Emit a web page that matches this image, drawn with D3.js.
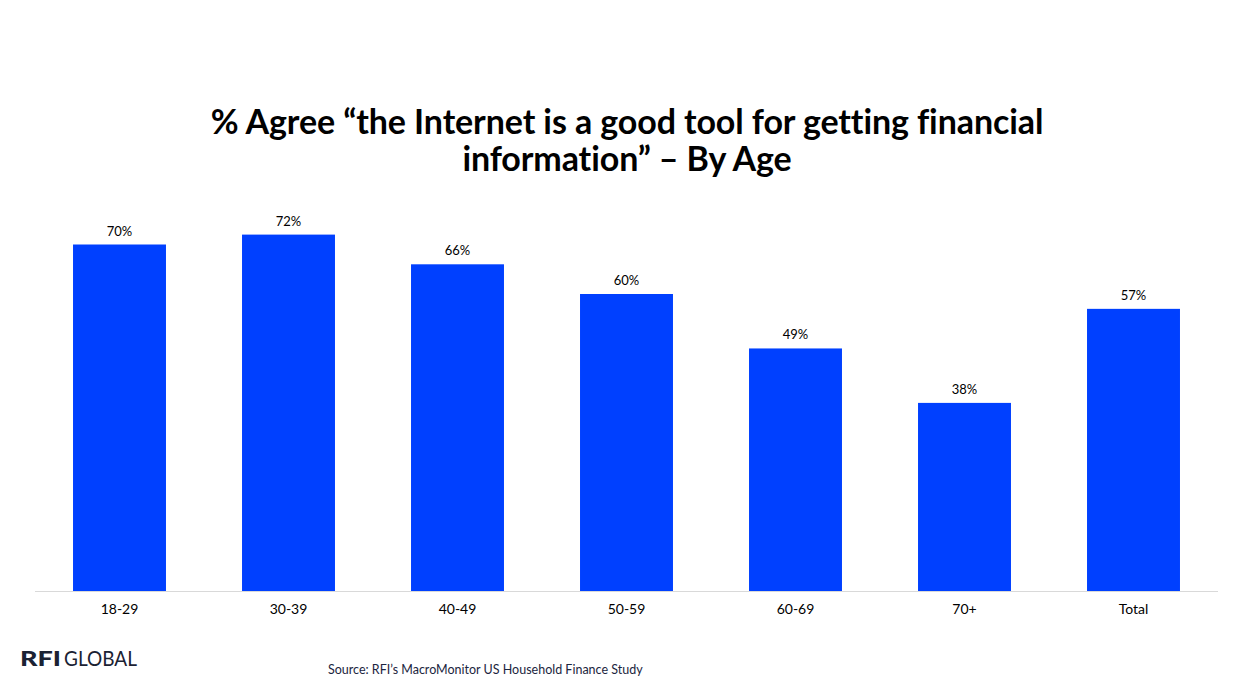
<!DOCTYPE html>
<html><head><meta charset="utf-8">
<script src="https://cdn.jsdelivr.net/npm/d3@7"></script>
<style>
html,body{margin:0;padding:0;background:#fff;}
svg{display:block;}
text{font-family:"Lato","Open Sans",sans-serif;font-variant-ligatures:none;}
</style></head>
<body>
<svg id="chart" width="1237" height="685"></svg>
<script>
const categories = ["18-29","30-39","40-49","50-59","60-69","70+","Total"];
const values = [70,72,66,60,49,38,57];
const titleLines = ["% Agree \u201cthe Internet is a good tool for getting financial","information\u201d \u2013 By Age"];
const sourceText = "Source: RFI\u2019s MacroMonitor US Household Finance Study";

const svg = d3.select("#chart");
const left = 35, right = 1218, base = 591;
const x = d3.scaleBand().domain(categories).range([left, right]).paddingInner(0.45).paddingOuter(0.225);
const y = d3.scaleLinear().domain([0, 100]).range([base, base - 495]);

svg.append("g").selectAll("text").data(titleLines).join("text")
  .attr("x", 627).attr("y", (d,i) => 134 + i*37)
  .attr("text-anchor","middle").attr("font-size", 34).attr("font-weight", 700)
  .attr("fill","#000").style("letter-spacing","-0.1px").text(d => d);

svg.append("g").selectAll("rect").data(values).join("rect")
  .attr("x", (d,i) => x(categories[i])).attr("width", x.bandwidth())
  .attr("y", d => y(d)).attr("height", d => y(0) - y(d))
  .attr("fill", "#0040ff");

svg.append("g").selectAll("text").data(values).join("text")
  .attr("x", (d,i) => x(categories[i]) + x.bandwidth()/2)
  .attr("y", d => y(d) - 9)
  .attr("text-anchor","middle").attr("font-size", 13).attr("fill","#000")
  .text(d => d + "%");

const axis = svg.append("g").attr("transform", `translate(0,${base})`)
  .call(d3.axisBottom(x).tickSize(0).tickPadding(13));
axis.select(".domain").attr("stroke","#d9d9d9").attr("stroke-width",1.2)
  .attr("d", `M${left},0.5H${right}`);
axis.selectAll("text").attr("font-size", 14).attr("fill","#000")
  .attr("font-family","Lato, 'Open Sans', sans-serif");

svg.append("text").attr("x", 20).attr("y", 666).attr("font-size", 21).attr("fill","#1b2233")
  .attr("font-weight", 900).attr("textLength", 41).attr("lengthAdjust","spacingAndGlyphs").text("RFI");
svg.append("text").attr("x", 64).attr("y", 666).attr("font-size", 21).attr("fill","#1b2233")
  .attr("font-weight", 400).attr("textLength", 73).attr("lengthAdjust","spacingAndGlyphs").text("GLOBAL");

svg.append("text").attr("x", 328).attr("y", 674).attr("font-size", 12.5).attr("fill","#1b2540")
  .text(sourceText);
</script>
</body></html>
